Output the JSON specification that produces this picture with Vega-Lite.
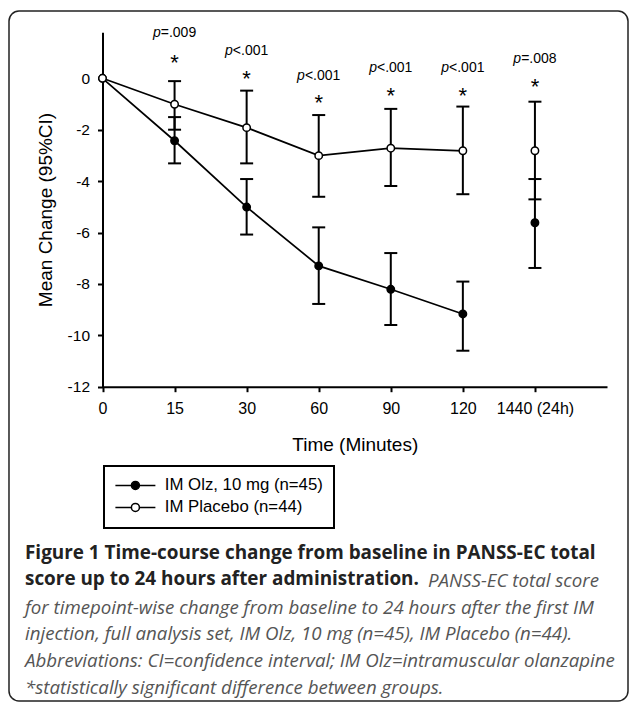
{
  "$schema": "https://vega.github.io/schema/vega-lite/v6.json",
  "width": 619,
  "height": 690,
  "autosize": "none",
  "padding": {"left": 9, "top": 11, "right": 1, "bottom": 2},
  "background": "white",
  "config": {
    "view": {"stroke": "#222222", "strokeWidth": 1.5, "cornerRadius": 10},
    "font": "Liberation Sans",
    "axis": {"domainColor": "black", "tickColor": "black", "labelColor": "black", "titleColor": "black", "grid": false},
    "axisY": {
      "offset": -93.5,
      "titleFont": "Liberation Sans",
      "titleFontSize": 19,
      "titleFontWeight": "normal",
      "titlePadding": 12,
      "labelFont": "Liberation Sans",
      "labelFontSize": 15.5,
      "labelPadding": 8,
      "tickSize": 5,
      "tickWidth": 2,
      "domainWidth": 2
    },
    "legend": {"strokeColor": "black", "strokeWidth": 2}
  },
  "datasets": {
    "pts": [
      {"group": "IM Olz, 10 mg (n=45)", "time": "0", "mean": 0, "lo": null, "hi": null},
      {"group": "IM Olz, 10 mg (n=45)", "time": "15", "mean": -2.43, "lo": -3.31, "hi": -1.51},
      {"group": "IM Olz, 10 mg (n=45)", "time": "30", "mean": -5.01, "lo": -6.08, "hi": -3.92},
      {"group": "IM Olz, 10 mg (n=45)", "time": "60", "mean": -7.3, "lo": -8.78, "hi": -5.8},
      {"group": "IM Olz, 10 mg (n=45)", "time": "90", "mean": -8.21, "lo": -9.6, "hi": -6.8},
      {"group": "IM Olz, 10 mg (n=45)", "time": "120", "mean": -9.17, "lo": -10.6, "hi": -7.91},
      {"group": "IM Olz, 10 mg (n=45)", "time": "1440 (24h)", "mean": -5.62, "lo": -7.38, "hi": -3.92},
      {"group": "IM Placebo (n=44)", "time": "0", "mean": 0, "lo": null, "hi": null},
      {"group": "IM Placebo (n=44)", "time": "15", "mean": -1.01, "lo": -2.0, "hi": -0.11},
      {"group": "IM Placebo (n=44)", "time": "30", "mean": -1.92, "lo": -3.31, "hi": -0.48},
      {"group": "IM Placebo (n=44)", "time": "60", "mean": -3.01, "lo": -4.61, "hi": -1.43},
      {"group": "IM Placebo (n=44)", "time": "90", "mean": -2.72, "lo": -4.19, "hi": -1.19},
      {"group": "IM Placebo (n=44)", "time": "120", "mean": -2.82, "lo": -4.51, "hi": -1.1},
      {"group": "IM Placebo (n=44)", "time": "1440 (24h)", "mean": -2.82, "lo": -4.71, "hi": -0.91}
    ],
    "ann": [
      {"time": "15", "op": "=.009", "ystar": 0.71, "yp": 1.75},
      {"time": "30", "op": "<.001", "ystar": 0.09, "yp": 1.07},
      {"time": "60", "op": "<.001", "ystar": -0.84, "yp": 0.09},
      {"time": "90", "op": "<.001", "ystar": -0.56, "yp": 0.41},
      {"time": "120", "op": "<.001", "ystar": -0.56, "yp": 0.41},
      {"time": "1440 (24h)", "op": "=.008", "ystar": -0.23, "yp": 0.75}
    ]
  },
  "title": {
    "text": ["Figure 1 Time-course change from baseline in PANSS-EC total", "score up to 24 hours after administration."],
    "subtitle": ["\u200b\u00a0\u00a0\u00a0\u00a0\u00a0\u00a0\u00a0\u00a0\u00a0\u00a0\u00a0\u00a0\u00a0\u00a0\u00a0\u00a0\u00a0\u00a0\u00a0\u00a0\u00a0\u00a0\u00a0\u00a0\u00a0\u00a0\u00a0\u00a0\u00a0\u00a0\u00a0\u00a0\u00a0\u00a0\u00a0\u00a0\u00a0\u00a0\u00a0\u00a0\u00a0\u00a0\u00a0\u00a0\u00a0\u00a0\u00a0\u00a0\u00a0\u00a0\u00a0\u00a0\u00a0\u00a0\u00a0\u00a0\u00a0\u00a0\u00a0\u00a0\u00a0\u00a0\u00a0\u00a0\u00a0\u00a0\u00a0\u00a0\u00a0\u00a0\u00a0\u00a0\u00a0\u00a0\u00a0\u00a0\u00a0\u00a0\u00a0\u00a0\u00a0\u00a0\u00a0PANSS-EC total score", "for timepoint-wise change from baseline to 24 hours after the first IM", "injection, full analysis set, IM Olz, 10 mg (n=45), IM Placebo (n=44).", "Abbreviations: CI=confidence interval; IM Olz=intramuscular olanzapine", "*statistically significant difference between groups."],
    "orient": "bottom",
    "anchor": "start",
    "frame": "group",
    "offset": -157.3,
    "dx": 16,
    "font": "Open Sans",
    "fontSize": 18.9,
    "fontWeight": "bold",
    "color": "#222222",
    "lineHeight": 26.7,
    "subtitleFont": "Open Sans",
    "subtitleFontSize": 18.7,
    "subtitleFontStyle": "italic",
    "subtitleColor": "#555555",
    "subtitleLineHeight": 26.7,
    "subtitlePadding": -17.3
  },
  "encoding": {
    "x": {
      "field": "time",
      "type": "ordinal",
      "sort": null,
      "scale": {"type": "point", "domain": ["0", "15", "30", "60", "90", "120", "1440 (24h)", "end"], "range": [93.5, 598], "padding": 0},
      "axis": {
        "values": ["0", "15", "30", "60", "90", "120", "1440 (24h)"],
        "offset": -314.3,
        "title": "Time (Minutes)",
        "titleFont": "Liberation Sans",
        "titleFontSize": 19,
        "titleFontWeight": "normal",
        "titlePadding": 19,
        "labelFont": "Liberation Sans",
        "labelFontSize": 16,
        "labelAngle": 0,
        "labelPadding": 9,
        "tickSize": 5,
        "tickWidth": 2,
        "domainWidth": 2
      }
    }
  },
  "layer": [
    {
      "data": {"name": "pts"},
      "transform": [{"filter": "datum.time != '1440 (24h)'"}],
      "mark": {"type": "line", "color": "black", "strokeWidth": 1.7},
      "encoding": {
        "y": {"field": "mean", "type": "quantitative", "scale": {"domain": [-12, 1.79], "range": [375.7, 21.3], "nice": false, "zero": false}, "axis": {"title": "Mean Change (95%CI)", "values": [-12, -10, -8, -6, -4, -2, 0], "labelExpr": "toString(datum.value)"}},
        "detail": {"field": "group"}
      }
    },
    {
      "data": {"name": "pts"},
      "transform": [{"filter": "isValid(datum.lo)"}],
      "mark": {"type": "rule", "color": "black", "strokeWidth": 2},
      "encoding": {
        "y": {"field": "lo", "type": "quantitative", "scale": {"domain": [-12, 1.79], "range": [375.7, 21.3], "nice": false, "zero": false}, "axis": {"title": "Mean Change (95%CI)", "values": [-12, -10, -8, -6, -4, -2, 0], "labelExpr": "toString(datum.value)"}},
        "y2": {"field": "hi"}
      }
    },
    {
      "data": {"name": "pts"},
      "transform": [{"filter": "isValid(datum.lo)"}],
      "mark": {"type": "tick", "orient": "horizontal", "size": 13, "thickness": 2, "color": "black", "opacity": 1},
      "encoding": {
        "y": {"field": "lo", "type": "quantitative", "scale": {"domain": [-12, 1.79], "range": [375.7, 21.3], "nice": false, "zero": false}, "axis": {"title": "Mean Change (95%CI)", "values": [-12, -10, -8, -6, -4, -2, 0], "labelExpr": "toString(datum.value)"}}
      }
    },
    {
      "data": {"name": "pts"},
      "transform": [{"filter": "isValid(datum.hi)"}],
      "mark": {"type": "tick", "orient": "horizontal", "size": 13, "thickness": 2, "color": "black", "opacity": 1},
      "encoding": {
        "y": {"field": "hi", "type": "quantitative", "scale": {"domain": [-12, 1.79], "range": [375.7, 21.3], "nice": false, "zero": false}, "axis": {"title": "Mean Change (95%CI)", "values": [-12, -10, -8, -6, -4, -2, 0], "labelExpr": "toString(datum.value)"}}
      }
    },
    {
      "data": {"name": "pts"},
      "mark": {"type": "circle", "size": 55, "stroke": "black", "strokeWidth": 1.5, "opacity": 1},
      "encoding": {
        "y": {"field": "mean", "type": "quantitative", "scale": {"domain": [-12, 1.79], "range": [375.7, 21.3], "nice": false, "zero": false}, "axis": {"title": "Mean Change (95%CI)", "values": [-12, -10, -8, -6, -4, -2, 0], "labelExpr": "toString(datum.value)"}},
        "fill": {
          "field": "group",
          "type": "nominal",
          "scale": {"domain": ["IM Olz, 10 mg (n=45)", "IM Placebo (n=44)"], "range": ["black", "white"]},
          "legend": {
            "title": null,
            "orient": "none",
            "legendX": 95,
            "legendY": 455,
            "symbolType": "M-3.333,0L-0.667,0M0.667,0L3.333,0M0.667,0A0.667,0.667,0,1,1,-0.667,0A0.667,0.667,0,1,1,0.667,0Z",
            "symbolSize": 144,
            "symbolOffset": 12,
            "symbolStrokeColor": "black",
            "symbolStrokeWidth": 1.5,
            "symbolOpacity": 1,
            "labelFont": "Liberation Sans",
            "labelFontSize": 16.8,
            "labelColor": "black",
            "labelOffset": 21,
            "padding": 11,
            "rowPadding": 4
          }
        }
      }
    },
    {
      "data": {"name": "ann"},
      "mark": {"type": "text", "text": "*", "font": "Liberation Sans", "fontSize": 22, "baseline": "alphabetic", "dy": 10, "color": "black"},
      "encoding": {
        "y": {"field": "ystar", "type": "quantitative", "scale": {"domain": [-12, 1.79], "range": [375.7, 21.3], "nice": false, "zero": false}, "axis": {"title": "Mean Change (95%CI)", "values": [-12, -10, -8, -6, -4, -2, 0], "labelExpr": "toString(datum.value)"}}
      }
    },
    {
      "data": {"name": "ann"},
      "mark": {"type": "text", "text": "p", "font": "Liberation Sans", "fontSize": 14, "fontStyle": "italic", "align": "right", "baseline": "middle", "dx": -13.8, "color": "black"},
      "encoding": {
        "y": {"field": "yp", "type": "quantitative", "scale": {"domain": [-12, 1.79], "range": [375.7, 21.3], "nice": false, "zero": false}, "axis": {"title": "Mean Change (95%CI)", "values": [-12, -10, -8, -6, -4, -2, 0], "labelExpr": "toString(datum.value)"}}
      }
    },
    {
      "data": {"name": "ann"},
      "mark": {"type": "text", "font": "Liberation Sans", "fontSize": 14, "align": "left", "baseline": "middle", "dx": -13.8, "color": "black"},
      "encoding": {
        "y": {"field": "yp", "type": "quantitative", "scale": {"domain": [-12, 1.79], "range": [375.7, 21.3], "nice": false, "zero": false}, "axis": {"title": "Mean Change (95%CI)", "values": [-12, -10, -8, -6, -4, -2, 0], "labelExpr": "toString(datum.value)"}},
        "text": {"field": "op"}
      }
    }
  ]
}
